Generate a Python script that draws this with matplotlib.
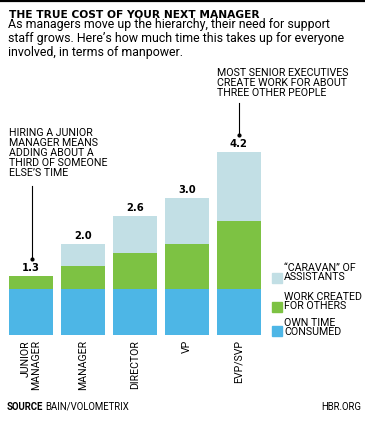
import numpy as np
import matplotlib
matplotlib.use('Agg')
import matplotlib.pyplot as plt
from matplotlib.patches import Rectangle
from matplotlib.lines import Line2D

# data
levels = ['JUNIOR\nMANAGER', 'MANAGER', 'DIRECTOR', 'VP', 'EVP/SVP']
own_time = [1.0, 1.0, 1.0, 1.0, 1.0]
work_others = [0.3, 0.5, 0.8, 1.0, 1.5]
caravan = [0.0, 0.5, 0.8, 1.0, 1.5]
total_labels = ['1.3', '2.0', '2.6', '3.0', '4.2']
legend_labels = ['\u201cCARAVAN\u201d OF\nASSISTANTS', 'WORK CREATED\nFOR OTHERS', 'OWN TIME\nCONSUMED']

c_blue = '#4db6e6'
c_green = '#7dc243'
c_light = '#c2dfe5'

W, H = 365, 424
plt.rcParams['font.family'] = ['Roboto', 'DejaVu Sans']

fig = plt.figure(figsize=(W / 100, H / 100), dpi=100)

def fx(x):
    return x / W

def fy(y):
    return 1 - y / H

# axes placed in pixel terms
ax = fig.add_axes([fx(9), fy(335), fx(261) - fx(9), fy(130) - fy(335)])
x = np.arange(len(levels))
bw = 0.85
ax.bar(x, own_time, bw, color=c_blue)
ax.bar(x, work_others, bw, bottom=own_time, color=c_green)
bot2 = np.array(own_time) + np.array(work_others)
ax.bar(x, caravan, bw, bottom=bot2, color=c_light)
ax.set_xlim(-bw / 2, len(levels) - 1 + bw / 2)
ax.set_ylim(0, 205 / 45.7)
ax.axis('off')

tops = bot2 + np.array(caravan)
for i in range(len(levels)):
    ax.annotate(total_labels[i], (x[i], tops[i]), xytext=(0, 3.6), textcoords='offset points',
                ha='center', va='baseline', fontsize=7.2, fontweight='black', family='DejaVu Sans')
    ax.text(x[i], -0.11, levels[i], rotation=90, ha='center', va='top',
            multialignment='right', fontsize=7.6, linespacing=0.98)

# top rule
fig.add_artist(Line2D([0, 1], [fy(1), fy(1)], color='black', lw=1.6))

# title and subtitle
fig.text(fx(9), fy(14.5), 'THE TRUE COST OF YOUR NEXT MANAGER', fontsize=7.7,
         fontweight='black', family='DejaVu Sans', va='center', ha='left')
fig.text(fx(8), fy(18), 'As managers move up the hierarchy, their need for support\n'
         'staff grows. Here\u2019s how much time this takes up for everyone\n'
         'involved, in terms of manpower.', fontsize=8.9, va='top', ha='left', linespacing=1.08)

# annotations
fig.text(fx(217), fy(67.5), 'MOST SENIOR EXECUTIVES\nCREATE WORK FOR ABOUT\nTHREE OTHER PEOPLE',
         fontsize=7.7, va='top', ha='left', linespacing=1.0)
fig.add_artist(Line2D([fx(239), fx(239)], [fy(103), fy(135)], color='black', lw=0.8))
fig.add_artist(Line2D([fx(239)], [fy(135)], marker='o', ms=2, color='black'))

fig.text(fx(9), fy(127.5), 'HIRING A JUNIOR\nMANAGER MEANS\nADDING ABOUT A\nTHIRD OF SOMEONE\nELSE\u2019S TIME',
         fontsize=7.7, va='top', ha='left', linespacing=1.02)
fig.add_artist(Line2D([fx(31.5), fx(31.5)], [fy(186), fy(259)], color='black', lw=0.8))
fig.add_artist(Line2D([fx(31.5)], [fy(259)], marker='o', ms=2, color='black'))

# legend
leg_cols = [c_light, c_green, c_blue]
leg_sq_y = [273, 302, 326]
leg_txt_y = [272.5, 301.5, 327.5]
for col, sy, ty, lab in zip(leg_cols, leg_sq_y, leg_txt_y, legend_labels):
    fig.add_artist(Rectangle((fx(272), fy(sy + 10)), fx(10), 10 / H, color=col))
    fig.text(fx(284), fy(ty), lab, fontsize=7.7, va='center', ha='left', linespacing=0.98)

# footer
t = fig.text(fx(7), fy(407), 'SOURCE', fontsize=6.9, fontweight='bold', va='center', ha='left')
fig.canvas.draw()
bb = t.get_window_extent()
fig.text(bb.x1 / W + fx(2), fy(407), 'BAIN/VOLOMETRIX', fontsize=6.9, va='center', ha='left')
fig.text(fx(361), fy(407), 'HBR.ORG', fontsize=6.9, va='center', ha='right')

fig.savefig('out.png', dpi=100)
